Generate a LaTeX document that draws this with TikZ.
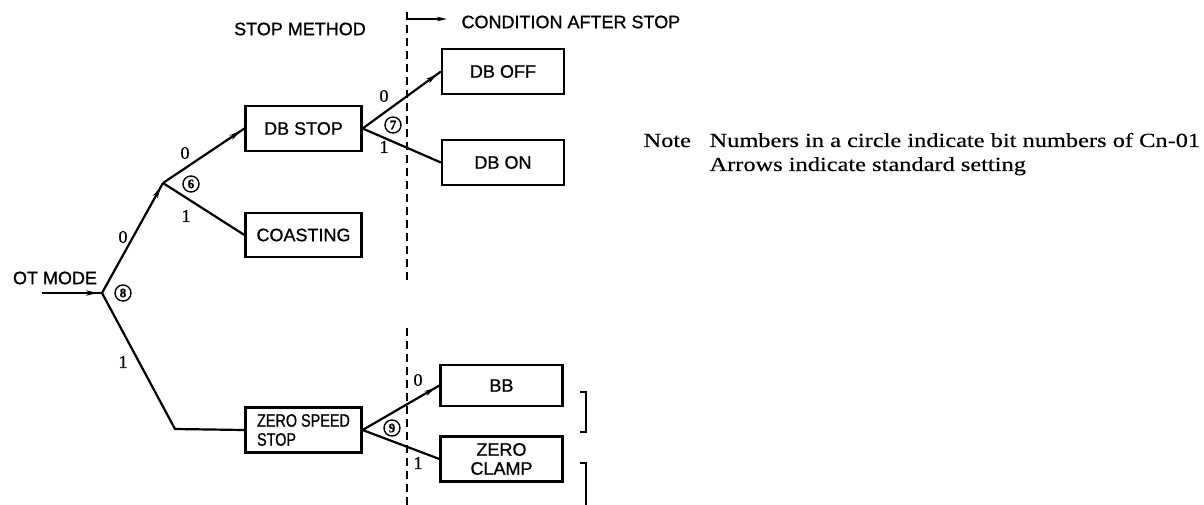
\documentclass[tikz,border=0pt]{standalone}
\usepackage{fontspec}
\setmainfont{Liberation Serif}
\setsansfont{Liberation Sans}
\newfontfamily\diagfont[FakeBold=0.9]{Liberation Sans}
\newfontfamily\narrowsans[FakeStretch=0.8, FakeBold=0.9]{Liberation Sans}
\newfontfamily\bitfont[FakeBold=0.9]{Liberation Serif}
\newfontfamily\notefont[FakeStretch=1.22, FakeBold=0.3]{Liberation Serif}
\usetikzlibrary{arrows.meta, positioning, decorations.markings}

\begin{document}
\begin{tikzpicture}[
    x=1pt, y=-1pt,
    every node/.style={font=\diagfont\fontsize{18}{19}\selectfont},
    box/.style={draw, line width=2.2pt, minimum width=116pt, minimum height=45pt, inner sep=0pt},
    widebox/.style={box, minimum width=122pt},
    bit/.style={font=\bitfont\fontsize{18}{18}\selectfont, inner sep=0pt},
    sel/.style={draw, circle, line width=1.4pt, minimum size=16pt, inner sep=0pt, font=\bitfont\bfseries\fontsize{13}{13}\selectfont},
    link/.style={line width=2.2pt},
    stdarrow/.style={postaction={decorate, decoration={markings, mark=at position -5pt with {\arrow{Stealth[length=11pt, width=5.5pt]}}}}},
    border/.style={line width=1.5pt, dash pattern=on 8pt off 5pt},
    note/.style={anchor=base west, font=\notefont\fontsize{20}{20}\selectfont}
]
\useasboundingbox (0,0) rectangle (1204,505);

% Input and branch points
\node (otmode) at (55,278) {OT MODE};
\coordinate (in) at (42,293);
\coordinate (v8) at (102,293);
\coordinate (v6) at (163,183);
\coordinate (bend) at (175,429);

% Stop method
\node[box] (dbstop) at (303.5,128.5) {DB STOP};
\node[box, minimum height=44pt] (coast) at (303.5,235) {COASTING};
\node[box, align=left] (zss) at (303.5,430) {\narrowsans ZERO SPEED\\\narrowsans STOP};

% Condition after stop
\node[widebox] (dboff) at (503,71.5) {DB OFF};
\node[widebox] (dbon) at (503,162.5) {DB ON};
\node[widebox, minimum height=41pt] (bb) at (501.5,385.5) {BB};
\node[widebox, align=center] (zclamp) at (501.5,459) {ZERO\\CLAMP};

% Connections
\draw[link, stdarrow] (in) -- (v8);
\draw[link, stdarrow] (v8) -- (v6);
\draw[link] (v8) -- (bend) -- (zss.west);
\draw[link, stdarrow] (v6) -- (dbstop.west);
\draw[link] (v6) -- (coast.west);
\draw[link, stdarrow] (dbstop.east) -- (dboff.west);
\draw[link] (dbstop.east) -- (dbon.west);
\draw[link, stdarrow] (zss.east) -- (bb.west);
\draw[link] (zss.east) -- (zclamp.west);

% Bit labels
\node[bit] (b80) at (123,237) {0};
\node[bit] (b81) at (123,362) {1};
\node[sel] (s8) at (123,293) {8};
\node[bit] (b60) at (185,153) {0};
\node[bit] (b61) at (186,216) {1};
\node[sel] (s6) at (191,184) {6};
\node[bit] (b70) at (384,96) {0};
\node[bit] (b71) at (384,147) {1};
\node[sel] (s7) at (393,125) {7};
\node[bit] (b90) at (418,380) {0};
\node[bit] (b91) at (418,463) {1};
\node[sel] (s9) at (392,428) {9};

% Headings and divider
\node (method) at (300,29) {STOP METHOD};
\draw[border] (407,12) -- (407,280);
\draw[border] (407,328) -- (407,505);
\draw[line width=1.8pt, -{Stealth[length=10pt, width=4.5pt]}] (407,19) -- (447,19);
\node[anchor=west] (cond) at (458,22) {CONDITION AFTER STOP};

% Brackets
\draw[line width=1.8pt] (580,392) -- (586,392) -- (586,432) -- (580,432);
\draw[line width=1.8pt] (580,463) -- (586,463) -- (586,505);

% Note
\node[note] (notehead) at (640,147) {Note};
\node[note] (note1) at (706,147) {Numbers in a circle indicate bit numbers of Cn-01};
\node[note] (note2) at (706,171) {Arrows indicate standard setting};

\end{tikzpicture}
\end{document}
